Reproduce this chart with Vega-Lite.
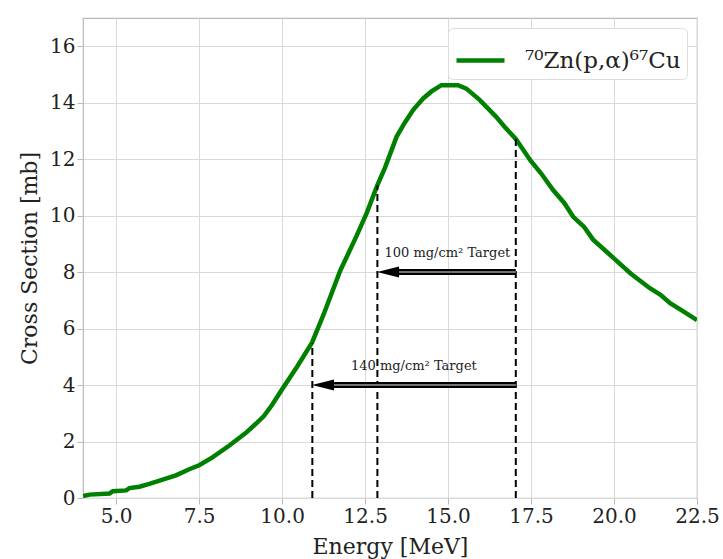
{
  "$schema": "https://vega.github.io/schema/vega-lite/v6.json",
  "width": 614,
  "height": 480,
  "autosize": {"type": "none"},
  "padding": {"left": 83, "top": 18, "right": 26, "bottom": 61},
  "background": "white",
  "config": {
    "view": {"stroke": "#b8b8b8", "strokeWidth": 1.2},
    "font": "DejaVu Serif",
    "axis": {
      "labelFont": "DejaVu Serif",
      "labelFontSize": 20,
      "labelColor": "#222222",
      "labelFlush": false,
      "titleFont": "DejaVu Serif",
      "titleFontSize": 22,
      "titleFontWeight": "normal",
      "titleColor": "#222222",
      "gridColor": "#d9d9d9",
      "gridWidth": 1,
      "domain": false,
      "tickColor": "#b8b8b8",
      "tickSize": 6,
      "labelPadding": 2
    },
    "legend": {
      "orient": "top-right",
      "offset": 10,
      "fillColor": "white",
      "strokeColor": "#dddddd",
      "cornerRadius": 5,
      "padding": 6,
      "labelFont": "DejaVu Serif",
      "labelFontSize": 23,
      "labelColor": "#222222",
      "labelOffset": 18,
      "symbolType": "stroke",
      "symbolSize": 2304,
      "symbolStrokeWidth": 4.5
    }
  },
  "datasets": {
    "curve": [
      {"E": 4.0, "xs": 0.07}, {"E": 4.2, "xs": 0.12}, {"E": 4.8, "xs": 0.16}, {"E": 4.9, "xs": 0.24},
      {"E": 5.3, "xs": 0.27}, {"E": 5.4, "xs": 0.35}, {"E": 5.7, "xs": 0.4}, {"E": 6.0, "xs": 0.5},
      {"E": 6.4, "xs": 0.65}, {"E": 6.8, "xs": 0.8}, {"E": 7.2, "xs": 1.02}, {"E": 7.5, "xs": 1.16},
      {"E": 7.9, "xs": 1.44}, {"E": 8.4, "xs": 1.85}, {"E": 8.9, "xs": 2.3}, {"E": 9.2, "xs": 2.62},
      {"E": 9.45, "xs": 2.9}, {"E": 9.7, "xs": 3.3}, {"E": 10.0, "xs": 3.85}, {"E": 10.45, "xs": 4.65},
      {"E": 10.9, "xs": 5.5}, {"E": 11.25, "xs": 6.5}, {"E": 11.75, "xs": 8.05}, {"E": 12.25, "xs": 9.3},
      {"E": 12.55, "xs": 10.1}, {"E": 12.87, "xs": 11.08}, {"E": 13.1, "xs": 11.7}, {"E": 13.45, "xs": 12.8},
      {"E": 13.7, "xs": 13.3}, {"E": 13.95, "xs": 13.75}, {"E": 14.25, "xs": 14.15}, {"E": 14.5, "xs": 14.4},
      {"E": 14.8, "xs": 14.62}, {"E": 15.3, "xs": 14.62}, {"E": 15.55, "xs": 14.5}, {"E": 15.95, "xs": 14.1},
      {"E": 16.45, "xs": 13.5}, {"E": 16.7, "xs": 13.15}, {"E": 17.04, "xs": 12.72}, {"E": 17.47, "xs": 11.97},
      {"E": 17.8, "xs": 11.5}, {"E": 18.17, "xs": 10.9}, {"E": 18.5, "xs": 10.45}, {"E": 18.77, "xs": 9.96},
      {"E": 19.1, "xs": 9.6}, {"E": 19.37, "xs": 9.15}, {"E": 19.7, "xs": 8.8}, {"E": 20.03, "xs": 8.45},
      {"E": 20.5, "xs": 7.95}, {"E": 21.08, "xs": 7.43}, {"E": 21.4, "xs": 7.2}, {"E": 21.69, "xs": 6.9},
      {"E": 22.1, "xs": 6.6}, {"E": 22.5, "xs": 6.3}
    ],
    "drops": [
      {"E": 10.91, "bottom": 0, "top": 5.48},
      {"E": 12.87, "bottom": 0, "top": 11.08},
      {"E": 17.04, "bottom": 0, "top": 12.74}
    ],
    "arrows": [
      {"tail": 17.04, "tip": 12.86, "base": 13.3, "y": 8},
      {"tail": 17.04, "tip": 10.9, "base": 11.35, "y": 4}
    ],
    "labels": [
      {"E": 14.98, "y": 8.69, "text": "100 mg/cm² Target"},
      {"E": 13.97, "y": 4.67, "text": "140 mg/cm² Target"}
    ],
    "series": [
      {"series": "⁷⁰Zn(p,α)⁶⁷Cu"}
    ]
  },
  "layer": [
    {
      "data": {"name": "curve"},
      "transform": [{"lookup": "E", "from": {"data": {"name": "series"}, "key": "series", "fields": ["series"]}, "default": "⁷⁰Zn(p,α)⁶⁷Cu"}],
      "mark": {"type": "line", "strokeWidth": 4.5, "clip": true},
      "encoding": {
        "x": {
          "field": "E", "type": "quantitative",
          "scale": {"domain": [4, 22.5], "nice": false, "zero": false},
          "axis": {"values": [5, 7.5, 10, 12.5, 15, 17.5, 20, 22.5], "format": ".1f", "title": "Energy [MeV]", "titlePadding": 10}
        },
        "y": {
          "field": "xs", "type": "quantitative",
          "scale": {"domain": [0, 17], "nice": false},
          "axis": {"values": [0, 2, 4, 6, 8, 10, 12, 14, 16], "title": "Cross Section [mb]", "titlePadding": 8}
        },
        "color": {
          "field": "series", "type": "nominal",
          "scale": {"range": ["#008000"]},
          "legend": {"title": null}
        }
      }
    },
    {
      "data": {"name": "drops"},
      "mark": {"type": "rule", "color": "black", "strokeWidth": 2, "strokeDash": [7, 4]},
      "encoding": {
        "x": {"field": "E", "type": "quantitative"},
        "y": {"field": "bottom", "type": "quantitative"},
        "y2": {"field": "top"}
      }
    },
    {
      "data": {"name": "arrows"},
      "mark": {"type": "rule", "color": "black", "strokeWidth": 6},
      "encoding": {
        "x": {"field": "tail", "type": "quantitative"},
        "x2": {"field": "base"},
        "y": {"field": "y", "type": "quantitative"}
      }
    },
    {
      "data": {"name": "arrows"},
      "mark": {"type": "rule", "color": "#9a9a9a", "strokeWidth": 1.5},
      "encoding": {
        "x": {"field": "tail", "type": "quantitative"},
        "x2": {"field": "base"},
        "y": {"field": "y", "type": "quantitative"}
      }
    },
    {
      "data": {"name": "arrows"},
      "mark": {"type": "point", "shape": "M 0 0 L 4 -1 L 4 1 Z", "size": 121, "filled": true, "color": "black", "opacity": 1, "strokeWidth": 0},
      "encoding": {
        "x": {"field": "tip", "type": "quantitative"},
        "y": {"field": "y", "type": "quantitative"}
      }
    },
    {
      "data": {"name": "labels"},
      "mark": {"type": "text", "font": "DejaVu Serif", "fontSize": 13, "color": "#222222", "align": "center", "baseline": "middle"},
      "encoding": {
        "x": {"field": "E", "type": "quantitative"},
        "y": {"field": "y", "type": "quantitative"},
        "text": {"field": "text"}
      }
    }
  ]
}
